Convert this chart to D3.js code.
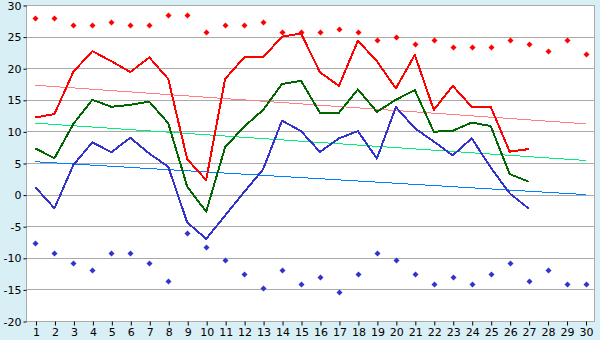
<!DOCTYPE html>
<html>
<head>
<meta charset="utf-8">
<script src="https://cdn.jsdelivr.net/npm/d3@7"></script>
<style>
  html, body { margin: 0; padding: 0; background: #d9eff6; }
  svg { display: block; }
  text { font-family: "DejaVu Sans", Verdana, sans-serif; font-size: 11px; fill: #000; }
</style>
</head>
<body>
<svg id="chart" width="600" height="340"></svg>
<script>
// Days of the month
const days = d3.range(1, 31);

// Daily maximum, mean and minimum temperatures (days 1–27)
const maxTemp = [12.2, 12.75, 19.45, 22.7, 21.1, 19.4, 21.7, 18.3, 5.6, 2.3,
                 18.3, 21.7, 21.7, 25.0, 25.5, 19.35, 17.2, 24.35, 21.1, 16.8,
                 22.1, 13.4, 17.2, 13.9, 13.9, 6.8, 7.2];
const meanTemp = [7.3, 5.75, 11.2, 15.0, 13.9, 14.2, 14.7, 11.3, 1.25, -2.7,
                  7.5, 10.75, 13.4, 17.5, 18.0, 12.95, 12.95, 16.65, 13.1, 15.0,
                  16.55, 9.95, 10.1, 11.4, 10.85, 3.25, 2.05];
const minTemp = [1.15, -2.17, 4.7, 8.27, 6.7, 9.0, 6.5, 4.4, -4.4, -7.0,
                 -3.3, 0.4, 4.0, 11.7, 10.05, 6.75, 8.9, 10.05, 5.7, 13.85,
                 10.5, 8.4, 6.2, 8.9, 4.3, 0.2, -2.2];

// Record high and record low for each day
const recordHigh = [27.9, 27.9, 26.8, 26.8, 27.25, 26.8, 26.8, 28.4, 28.4, 25.7,
                    26.8, 26.8, 27.25, 25.7, 25.7, 25.7, 26.15, 25.7, 24.4, 25.0,
                    23.9, 24.4, 23.3, 23.3, 23.3, 24.4, 23.9, 22.8, 24.4, 22.25];
const recordLow = [-7.7, -9.3, -10.9, -12.0, -9.3, -9.3, -10.9, -13.7, -6.0, -8.25,
                   -10.4, -12.6, -14.8, -12.0, -14.2, -13.1, -15.45, -12.6, -9.3, -10.4,
                   -12.6, -14.2, -13.1, -14.2, -12.6, -10.9, -13.7, -12.0, -14.2, -14.2];

// Long-term normals: straight lines from day 1 to day 30
const normalDays = [1, 30];
const normalMax = [17.3, 11.2];
const normalMean = [11.3, 5.4];
const normalMin = [5.2, 0.0];

// Y-axis tick values
const yTicks = d3.range(-20, 31, 5);

const svg = d3.select("#chart");
const plotL = 26, plotR = 595, plotT = 5, plotB = 321;

const x = d3.scaleLinear().domain([0.5, 30.5]).range([plotL, plotR]);
const y = d3.scaleLinear().domain([-20, 30]).range([plotB, plotT]);

// plot background
svg.append("rect")
  .attr("x", plotL).attr("y", plotT)
  .attr("width", plotR - plotL).attr("height", plotB - plotT)
  .attr("fill", "#fff");

// horizontal grid
svg.append("g").selectAll("line")
  .data(yTicks)
  .join("line")
  .attr("x1", plotL).attr("x2", plotR)
  .attr("y1", d => Math.round(y(d)) + 0.5).attr("y2", d => Math.round(y(d)) + 0.5)
  .attr("stroke", "#aaa").attr("stroke-width", 1);

// plot frame
svg.append("rect")
  .attr("x", plotL + 0.5).attr("y", plotT + 0.5)
  .attr("width", plotR - plotL - 1).attr("height", plotB - plotT)
  .attr("fill", "none").attr("stroke", "#aaa");

// axes
const yAxis = d3.axisLeft(y).tickValues(yTicks).tickSize(3).tickPadding(2)
  .tickFormat(d => String(d));
const gy = svg.append("g")
  .attr("transform", `translate(${plotL + 0.5},0.5)`)
  .call(yAxis);
gy.select(".domain").remove();
gy.selectAll(".tick line").attr("stroke", "#000");
gy.selectAll("text").style("font-size", "11px").attr("fill", "#000");

const xAxis = d3.axisBottom(x).tickValues(days).tickSize(4).tickPadding(3)
  .tickFormat(d3.format("d"));
const gx = svg.append("g")
  .attr("transform", `translate(0.5,${plotB + 0.5})`)
  .call(xAxis);
gx.select(".domain").remove();
gx.selectAll(".tick line").attr("stroke", "#000");
gx.selectAll("text").style("font-size", "11px").attr("fill", "#000");

// normal (trend) lines
const lineN = d3.line().x((d, i) => x(normalDays[i])).y(d => y(d));
[[normalMax, "#ff8080"], [normalMean, "#00ee80"], [normalMin, "#0080ff"]].forEach(([vals, col]) => {
  svg.append("path")
    .attr("d", lineN(vals))
    .attr("fill", "none").attr("stroke", col).attr("stroke-width", 1)
    .attr("shape-rendering", "crispEdges");
});

// daily series
const line = d3.line().x((d, i) => x(days[i])).y(d => y(d));
[[maxTemp, "#ff0000"], [meanTemp, "#006600"], [minTemp, "#3333cc"]].forEach(([vals, col]) => {
  svg.append("path")
    .attr("d", line(vals))
    .attr("fill", "none").attr("stroke", col).attr("stroke-width", 2)
    .attr("stroke-linejoin", "round")
    .attr("shape-rendering", "crispEdges");
});

// record markers
const diamond = "M0,-3L3,0L0,3L-3,0Z";
[[recordHigh, "#ff0000"], [recordLow, "#3333cc"]].forEach(([vals, col]) => {
  svg.append("g").selectAll("path")
    .data(vals)
    .join("path")
    .attr("d", diamond)
    .attr("transform", (d, i) => `translate(${Math.round(x(days[i])) + 0.5},${Math.round(y(d)) + 0.5})`)
    .attr("fill", col);
});
</script>
</body>
</html>
